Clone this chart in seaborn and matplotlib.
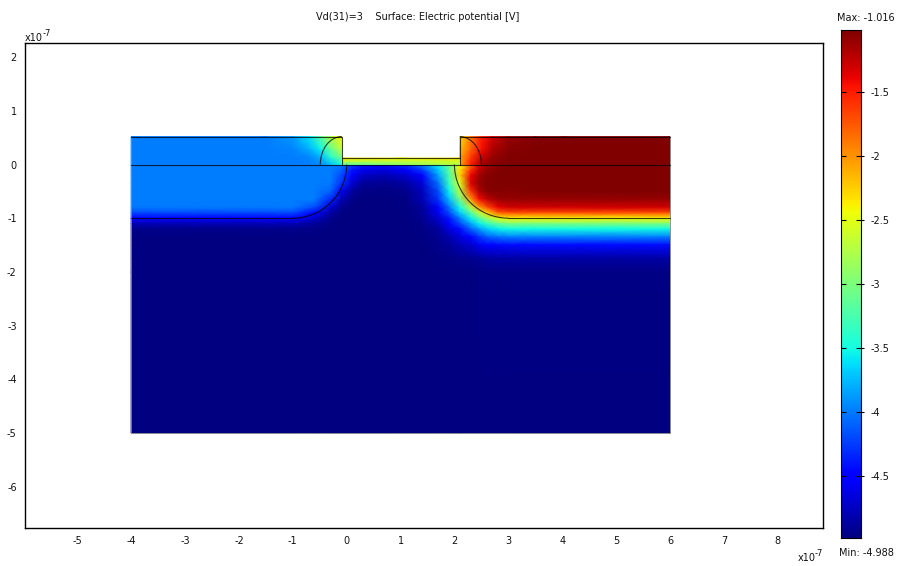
# plot.py
# Surface plot of the electric potential with a jet colour strip.

import matplotlib
matplotlib.use("Agg")
import matplotlib.pyplot as plt
from matplotlib.patches import Arc
import seaborn as sns
import numpy as np

VMIN = -4.988
VMAX = -1.016

# Substrate, values (x and y in units of 1e-7)
sub_x = [-4, -1.5, -1, -0.6, -0.3, -0.1, 0.1, 0.3, 0.7, 1.1, 1.4, 1.7, 1.9, 2.1, 2.3, 2.45, 2.6, 2.8, 3, 3.5, 6]
sub_y = [0, -0.1, -0.2, -0.35, -0.5, -0.65, -0.8, -0.9, -1, -1.1, -1.2, -1.35, -1.5, -1.75, -2, -5]
sub_v = [
    [-4, -4, -4, -4, -4, -4.05, -4.25, -4.4, -4.45, -4.3, -4.0, -3.55, -3.1, -2.45, -1.8, -1.3, -1.15, -1.05, -1.03, -1.02, -1.02],
    [-4, -4, -4, -4, -4, -4.1, -4.4, -4.6, -4.65, -4.5, -4.25, -3.7, -3.15, -2.35, -1.6, -1.25, -1.1, -1.04, -1.03, -1.02, -1.02],
    [-4, -4, -4, -4, -4, -4.2, -4.55, -4.75, -4.8, -4.7, -4.5, -3.85, -3.25, -2.25, -1.4, -1.15, -1.05, -1.03, -1.03, -1.02, -1.02],
    [-4, -4, -4, -4, -4.02, -4.3, -4.7, -4.88, -4.92, -4.86, -4.68, -4.05, -3.35, -2.55, -1.35, -1.1, -1.04, -1.03, -1.03, -1.02, -1.02],
    [-4, -4, -4, -4, -4.1, -4.6, -4.88, -4.96, -4.97, -4.94, -4.78, -4.2, -3.55, -2.7, -1.6, -1.2, -1.06, -1.04, -1.05, -1.03, -1.03],
    [-4, -4, -4, -4, -4.35, -4.8, -4.95, -4.98, -4.98, -4.97, -4.8, -4.3, -3.75, -3.05, -2.05, -1.45, -1.25, -1.12, -1.1, -1.1, -1.1],
    [-4.02, -4.02, -4.02, -4.2, -4.7, -4.93, -4.98, -4.98, -4.98, -4.97, -4.88, -4.5, -4.05, -3.5, -2.75, -2.1, -1.7, -1.4, -1.3, -1.3, -1.3],
    [-4.2, -4.2, -4.2, -4.5, -4.85, -4.96, -4.98, -4.98, -4.98, -4.97, -4.9, -4.6, -4.2, -3.7, -3.2, -2.7, -2.3, -1.8, -1.7, -1.7, -1.7],
    [-4.55, -4.55, -4.55, -4.72, -4.93, -4.97, -4.98, -4.98, -4.98, -4.98, -4.92, -4.7, -4.4, -4.0, -3.55, -3.2, -2.85, -2.5, -2.4, -2.4, -2.4],
    [-4.8, -4.8, -4.8, -4.88, -4.96, -4.98, -4.98, -4.98, -4.98, -4.98, -4.95, -4.8, -4.55, -4.2, -3.85, -3.55, -3.35, -3.1, -3, -3, -3],
    [-4.93, -4.93, -4.93, -4.95, -4.98, -4.98, -4.98, -4.98, -4.98, -4.98, -4.96, -4.87, -4.65, -4.45, -4.1, -3.9, -3.7, -3.55, -3.5, -3.5, -3.5],
    [-4.98, -4.98, -4.98, -4.98, -4.98, -4.98, -4.98, -4.98, -4.98, -4.98, -4.97, -4.92, -4.82, -4.65, -4.5, -4.3, -4.15, -4.05, -4, -4, -4],
    [-4.98, -4.98, -4.98, -4.98, -4.98, -4.98, -4.98, -4.98, -4.98, -4.98, -4.98, -4.94, -4.88, -4.8, -4.72, -4.6, -4.5, -4.47, -4.45, -4.45, -4.45],
    [-4.98, -4.98, -4.98, -4.98, -4.98, -4.98, -4.98, -4.98, -4.98, -4.98, -4.98, -4.97, -4.96, -4.94, -4.92, -4.9, -4.87, -4.85, -4.85, -4.85, -4.85],
    [-4.98, -4.98, -4.98, -4.98, -4.98, -4.98, -4.98, -4.98, -4.98, -4.98, -4.98, -4.98, -4.98, -4.98, -4.98, -4.97, -4.97, -4.97, -4.97, -4.97, -4.97],
    [-4.988, -4.988, -4.988, -4.988, -4.988, -4.988, -4.988, -4.988, -4.988, -4.988, -4.988, -4.988, -4.988, -4.988, -4.988, -4.988, -4.988, -4.988, -4.988, -4.988, -4.988],
]

# Left raised block
left_x = [-4, -1.5, -1, -0.7, -0.5, -0.3, -0.09]
left_y = [0, 0.15, 0.3, 0.52]
left_v = [
    [-4, -4, -4, -4, -3.95, -3.75, -3.5],
    [-4, -4, -4, -3.95, -3.8, -3.4, -3.0],
    [-4, -4, -3.97, -3.8, -3.55, -3.1, -2.65],
    [-4, -4, -3.9, -3.6, -3.2, -2.75, -2.4],
]

# Right raised block
right_x = [2.1, 2.3, 2.5, 2.7, 3, 3.5, 4, 6]
right_y = [0, 0.15, 0.3, 0.52]
right_v = [
    [-2.1, -1.5, -1.15, -1.05, -1.02, -1.02, -1.02, -1.02],
    [-2.1, -1.65, -1.3, -1.12, -1.03, -1.02, -1.02, -1.02],
    [-2.2, -1.8, -1.45, -1.2, -1.06, -1.03, -1.02, -1.02],
    [-2.3, -1.9, -1.5, -1.3, -1.1, -1.04, -1.02, -1.02],
]

# Thin strip between the blocks
strip_x = [-0.09, 1.0, 2.1]
strip_y = [0, 0.06, 0.12]
strip_v = [
    [-3.2, -2.9, -2.7],
    [-2.7, -2.7, -2.6],
    [-2.3, -2.4, -2.3],
]

x_ticks = [-5, -4, -3, -2, -1, 0, 1, 2, 3, 4, 5, 6, 7, 8]
y_ticks = [2, 1, 0, -1, -2, -3, -4, -5, -6]
cbar_ticks = [-1.5, -2, -2.5, -3, -3.5, -4, -4.5]
cbar_labels = ["-1.5", "-2", "-2.5", "-3", "-3.5", "-4", "-4.5"]

sns.set_style("white")
plt.rcParams["font.family"] = ["DejaVu Sans"]
plt.rcParams["axes.unicode_minus"] = False

W, H = 901, 566
fig = plt.figure(figsize=(W / 100, H / 100), dpi=100)
ax = fig.add_axes([25 / W, 1 - 528 / H, 798 / W, 485 / H])
cax = fig.add_axes([841 / W, 1 - 538 / H, 20 / W, 508 / H])

# Main field
for xs, ys, vs in [(sub_x, sub_y, sub_v), (left_x, left_y, left_v),
                   (right_x, right_y, right_v), (strip_x, strip_y, strip_v)]:
    ax.pcolormesh(xs, ys, np.array(vs), shading="gouraud", cmap="jet", vmin=VMIN, vmax=VMAX)

# Outer edge of the domain, faint
ax.plot([-4, -4, 6, 6], [0, -5, -5, 0], color="#8a8a8a", lw=0.6)
ax.plot([-4, -4], [0, 0.52], color="#8a8a8a", lw=0.6)
ax.plot([6, 6], [0, 0.52], color="#8a8a8a", lw=0.6)

# Subdomain lines
line = dict(color="black", lw=0.8, alpha=0.75)
ax.plot([-4, 6], [0, 0], **line)
ax.plot([-4, -0.09, -0.09, 2.1, 2.1, 6], [0.52, 0.52, 0.12, 0.12, 0.52, 0.52], **line)
ax.plot([-0.09, -0.09], [0, 0.12], **line)
ax.plot([2.1, 2.1], [0, 0.12], **line)
ax.plot([-4, -1], [-1, -1], **line)
ax.plot([3, 6], [-1, -1], **line)
ax.add_patch(Arc((-1, 0), 2, 2, theta1=270, theta2=360, **line))
ax.add_patch(Arc((3, 0), 2, 2, theta1=180, theta2=270, **line))
ax.add_patch(Arc((-0.09, 0), 0.8, 1.04, theta1=90, theta2=180, **line))
ax.add_patch(Arc((2.1, 0), 0.8, 1.04, theta1=0, theta2=90, **line))

ax.set_xlim(-5.97, 8.84)
ax.set_ylim(-6.77, 2.263)
ax.set_xticks(x_ticks)
ax.set_yticks(y_ticks)
ax.set_xticklabels([str(t) for t in x_ticks])
ax.set_yticklabels([str(t) for t in y_ticks])
ax.tick_params(length=0, labelsize=7, pad=6, colors="#111111")
for s in ax.spines.values():
    s.set_visible(True)
    s.set_color("black")
    s.set_linewidth(1.0)

# Colour strip
n_levels = 254
levels = np.linspace(VMAX, VMIN, n_levels).reshape(-1, 1)
sns.heatmap(levels, cmap="jet", vmin=VMIN, vmax=VMAX, cbar=False, ax=cax,
            xticklabels=False, yticklabels=False)
tick_pos = [(VMAX - t) / (VMAX - VMIN) * n_levels for t in cbar_ticks]
cax.set_yticks(tick_pos)
cax.set_yticklabels(cbar_labels)
cax.tick_params(axis="y", left=False, right=False, labelleft=False, labelright=True,
                labelsize=7, pad=3, labelcolor="#111111", labelrotation=0)
# tick marks sit on top of the strip and poke out on the right
cax.hlines(tick_pos, 0, 0.25, color="black", lw=0.8, zorder=5)
cax.hlines(tick_pos, 0.75, 1.15, color="black", lw=0.8, zorder=5, clip_on=False)
for s in cax.spines.values():
    s.set_visible(True)
    s.set_color("black")
    s.set_linewidth(0.8)


def label(x, y, text, size=7, ha="center"):
    fig.text(x / W, 1 - y / H, text, fontsize=size, ha=ha, va="center", color="#111111")


label(418, 17, "Vd(31)=3    Surface: Electric potential [V]")
label(866, 18, "Max: -1.016")
label(866, 553, "Min: -4.988")
label(25, 38, "x10", ha="left")
label(43, 33, "-7", size=6, ha="left")
label(798, 558, "x10", ha="left")
label(815, 553, "-7", size=6, ha="left")

fig.savefig("out.png", dpi=100)
plt.close(fig)
